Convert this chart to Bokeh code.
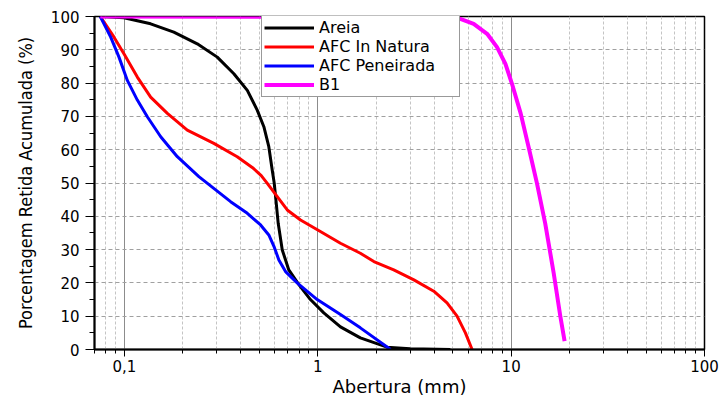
from bokeh.plotting import figure
from bokeh.models import FixedTicker, CustomJSTickFormatter, Legend, LegendItem
from bokeh.embed import file_html
from bokeh.resources import INLINE

# Data (abertura in mm, % retida acumulada)
areia_x = [0.075, 0.0994, 0.1366, 0.18, 0.238, 0.302, 0.368, 0.432, 0.486, 0.526, 0.558, 0.581, 0.595,
           0.605, 0.624, 0.655, 0.708, 0.798, 0.916, 1.074, 1.31, 1.66, 2.28, 3.0, 4.85]
areia_y = [100, 99.6, 97.8, 95.3, 91.8, 87.8, 82.8, 77.8, 71.9, 66.9, 60.9, 53.9, 50,
           45.9, 37.9, 29.9, 23.9, 19.5, 15, 11, 6.8, 3.5, 0.7, 0.2, 0]

natura_x = [0.075, 0.0883, 0.0994, 0.1166, 0.1366, 0.1667, 0.2113, 0.29, 0.383, 0.46, 0.51, 0.548,
            0.617, 0.695, 0.814, 1.0, 1.31, 1.66, 1.95, 2.47, 3.14, 3.98, 4.66, 5.25, 5.8, 6.28]
natura_y = [100, 93.8, 88.8, 81.8, 75.8, 70.9, 65.9, 61.9, 57.9, 54.6, 52.2, 49.9,
            45.9, 41.9, 38.9, 35.9, 31.9, 28.9, 26.4, 23.9, 20.9, 17.5, 14, 10, 5, 0]

peneirada_x = [0.075, 0.0849, 0.0937, 0.1035, 0.1166, 0.1313, 0.154, 0.1877, 0.2426, 0.354, 0.432,
               0.506, 0.558, 0.593, 0.629, 0.681, 0.782, 0.993, 1.31, 1.66, 2.38]
peneirada_y = [100, 93.8, 87.8, 80.8, 74.9, 69.9, 63.9, 57.9, 51.9, 44.4, 40.9,
               37.4, 34.4, 31, 26.9, 23.4, 20, 15, 10.5, 6.5, 0]

b1_x = [0.075, 4.3, 5.46, 6.4, 7.51, 8.45, 9.34, 10.1, 11.2, 12.3, 13.6, 15.0, 16.6, 17.96, 18.9]
b1_y = [100, 99.8, 99.3, 97.8, 94.8, 90.8, 85.8, 79.8, 70.9, 60.9, 49.9, 37.9, 22.9, 10, 2.5]

x_major = [0.1, 1, 10, 100]
x_minor = [0.07, 0.08, 0.09, 0.2, 0.3, 0.4, 0.5, 0.6, 0.7, 0.8, 0.9,
           2, 3, 4, 5, 6, 7, 8, 9, 20, 30, 40, 50, 60, 70, 80, 90]
y_major = list(range(0, 101, 10))
y_minor = list(range(0, 101, 5))

p = figure(width=720, height=399, x_axis_type="log", x_range=(0.07, 100), y_range=(0, 100),
           output_backend="svg", toolbar_location=None,
           min_border_left=94, min_border_right=16, min_border_top=16, min_border_bottom=49)
p.background_fill_color = "white"
p.border_fill_color = "white"
p.outline_line_color = "black"
p.outline_line_width = 1.5

p.xaxis.ticker = FixedTicker(ticks=x_major, minor_ticks=x_minor)
p.yaxis.ticker = FixedTicker(ticks=y_major, minor_ticks=y_minor)
p.xaxis.formatter = CustomJSTickFormatter(code="return String(tick).replace('.', ',')")

for ax in (p.xaxis[0], p.yaxis[0]):
    ax.axis_line_color = "black"
    ax.axis_line_width = 2
    ax.major_tick_line_color = "black"
    ax.minor_tick_line_color = "black"
    ax.major_tick_line_width = 1
    ax.minor_tick_line_width = 1
    ax.major_tick_in = 0
    ax.minor_tick_in = 0
    ax.major_label_text_font = "DejaVu Sans"
    ax.major_label_text_font_size = "15px"
    ax.major_label_text_color = "black"

p.xaxis.major_tick_out = 7
p.xaxis.minor_tick_out = 4
p.xaxis.major_label_standoff = 3
p.yaxis.major_tick_out = 9
p.yaxis.minor_tick_out = 5
p.yaxis.major_label_standoff = 6

p.xaxis.axis_label = "Abertura (mm)"
p.xaxis.axis_label_text_font = "DejaVu Sans"
p.xaxis.axis_label_text_font_size = "18px"
p.xaxis.axis_label_text_font_style = "normal"
p.xaxis.axis_label_text_color = "black"
p.xaxis.axis_label_standoff = 1

p.yaxis.axis_label = "Porcentagem Retida Acumulada (%)"
p.yaxis.axis_label_text_font = "'DejaVu Sans Condensed', 'Liberation Sans Narrow', 'Roboto Condensed', sans-serif"
p.yaxis.axis_label_text_font_size = "18px"
p.yaxis.axis_label_text_font_style = "normal"
p.yaxis.axis_label_text_color = "black"
p.yaxis.axis_label_standoff = 12

p.xgrid.grid_line_color = "#8c8c8c"
p.xgrid.grid_line_width = 1
p.xgrid.minor_grid_line_color = "#c4c4c4"
p.xgrid.minor_grid_line_dash = "3 2"
p.ygrid.grid_line_color = "#a0a0a0"
p.ygrid.grid_line_dash = "4 3"

r_areia = p.line(areia_x, areia_y, line_color="black", line_width=3, line_join="round")
r_nat = p.line(natura_x, natura_y, line_color="#ff0000", line_width=3, line_join="round")
r_pen = p.line(peneirada_x, peneirada_y, line_color="#0000ff", line_width=3, line_join="round")
r_b1 = p.line(b1_x, b1_y, line_color="#ff00ff", line_width=4, line_join="round")

legend = Legend(items=[
    LegendItem(label="Areia", renderers=[r_areia]),
    LegendItem(label="AFC In Natura", renderers=[r_nat]),
    LegendItem(label="AFC Peneirada", renderers=[r_pen]),
    LegendItem(label="B1", renderers=[r_b1]),
], location=(167, 252))
legend.label_text_font = "DejaVu Sans"
legend.label_text_font_size = "16px"
legend.label_text_color = "black"
legend.glyph_width = 50
legend.glyph_height = 17
legend.label_height = 17
legend.label_width = 138
legend.label_standoff = 5
legend.spacing = 0
legend.padding = 2
legend.margin = 0
legend.border_line_color = "#333333"
legend.border_line_width = 1.5
legend.background_fill_alpha = 1
p.add_layout(legend, "center")

open("out.html", "w").write(file_html(p, INLINE))
